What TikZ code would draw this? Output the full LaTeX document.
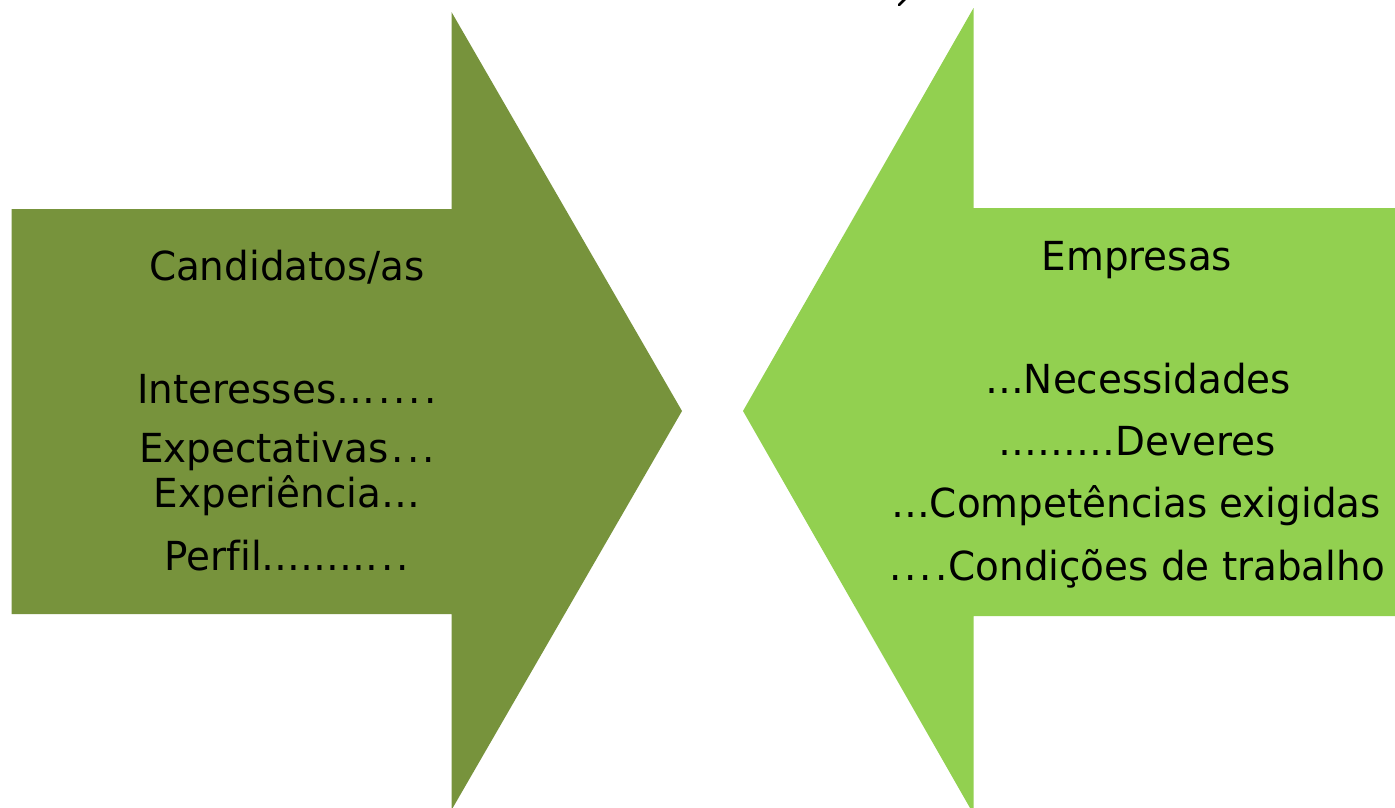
\documentclass[tikz,border=0pt]{standalone}
\usepackage{fontspec}
\setmainfont[FakeStretch=1.08,Ligatures=NoCommon]{DejaVu Sans Condensed}
\definecolor{olivegr}{HTML}{77933C}
\definecolor{lightgr}{HTML}{92D050}
\newcommand\sdt{\kern3pt.}
\begin{document}
\begin{tikzpicture}[x=1pt,y=-1pt,
  lbl/.style={font=\fontsize{40}{48}\selectfont, anchor=base, inner sep=0pt, text=black}]
\useasboundingbox (0,0) rectangle (1395,807);
\fill[white] (0,0) rectangle (1395,807);
% left arrow
\fill[olivegr] (11.5,209) -- (451.5,209) -- (451.5,12) -- (682,411) -- (451.5,810) -- (451.5,614) -- (11.5,614) -- cycle;
% right arrow
\fill[lightgr] (1395,208) -- (973.5,208) -- (973.5,8) -- (743,411) -- (973.5,814) -- (973.5,616) -- (1395,616) -- cycle;
% small cut-off stroke at top
\draw[black, line width=2.5pt, line cap=round] (899,5) -- (905,-1);
% left texts
\node[lbl] (cand) at (287,280) {Candidatos/as};
\node[lbl] (int) at (287,403) {Interesses…\sdt\sdt\sdt\sdt};
\node[lbl] (exp) at (287,462) {Expectativas\sdt\sdt\sdt};
\node[lbl] (expe) at (287,507) {Experiência…};
\node[lbl] (perf) at (287,570) {Perfil………\sdt\sdt};
% right texts
\node[lbl] (emp) at (1137,270) {Empresas};
\node[lbl] (nec) at (1138,393) {…Necessidades};
\node[lbl] (dev) at (1137,455) {………Deveres};
\node[lbl] (comp) at (1136,517) {…Competências exigidas};
\node[lbl] (cond) at (1137,580) {.\sdt\sdt\sdt\kern1pt Condições de trabalho};
\end{tikzpicture}
\end{document}
